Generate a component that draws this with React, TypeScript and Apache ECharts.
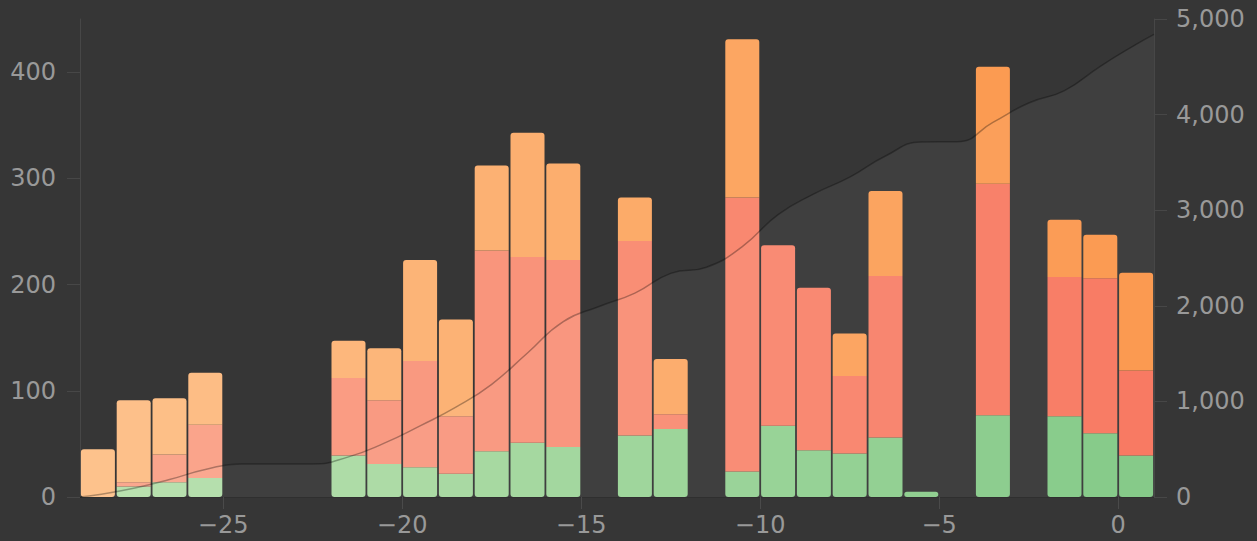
import React, { useEffect, useRef } from "react";
import * as echarts from "echarts";

// Bin centres (each bar covers [x-0.5, x+0.5])
const binCenters = [-28.5, -27.5, -26.5, -25.5, -21.5, -20.5, -19.5, -18.5, -17.5, -16.5, -15.5, -13.5, -12.5, -10.5, -9.5, -8.5, -7.5, -6.5, -5.5, -3.5, -1.5, -0.5, 0.5];
const greenValues = [0, 10, 14, 18, 39, 31, 28, 22, 43, 51, 47, 58, 64, 24, 67, 44, 41, 56, 5, 77, 76, 60, 39];
const redValues = [0, 4, 26, 50, 73, 60, 100, 54, 189, 175, 176, 183, 14, 258, 170, 153, 73, 152, 0, 218, 131, 146, 80];
const orangeValues = [45, 77, 53, 49, 35, 49, 95, 91, 80, 117, 91, 41, 52, 149, 0, 0, 40, 80, 0, 110, 54, 41, 92];

const xTickValues = [-25, -20, -15, -10, -5, 0];
const leftTickValues = [0, 100, 200, 300, 400];
const rightTickValues = [0, 1000, 2000, 3000, 4000, 5000];
const xMin = -29;
const xMax = 1;

// colour ramps (left-most bin -> right-most bin)
const greenRamp = [[184, 225, 173], [128, 200, 132]];
const redRamp = [[250, 169, 144], [248, 116, 92]];
const orangeRamp = [[253, 194, 140], [251, 149, 73]];

function rampColor(ramp: number[][], x: number) {
  const t = (x - binCenters[0]) / (binCenters[binCenters.length - 1] - binCenters[0]);
  const c = ramp[0].map((v, i) => Math.round(v + (ramp[1][i] - v) * t));
  return `rgb(${c[0]},${c[1]},${c[2]})`;
}

const fmtNum = (v: number) => {
  const s = Math.abs(v).toLocaleString("en-US");
  return v < 0 ? "\u2212" + s : s;
};

export default function App() {
  const ref = useRef<HTMLDivElement>(null);
  useEffect(() => {
    if (!ref.current) return;
    const chart = echarts.init(ref.current, null, { renderer: "svg" });
    const seriesVals = [greenValues, redValues, orangeValues];
    const ramps = [greenRamp, redRamp, orangeRamp];
    const R = 3;

    const barSeries = seriesVals.map((vals, si) => ({
      type: "bar",
      stack: "total",
      barWidth: 34,
      xAxisIndex: 0,
      yAxisIndex: 0,
      encode: { x: 1, y: 0 },
      data: vals.map((v, i) => {
        const col = seriesVals.map((s) => s[i]);
        let top = -1, bottom = -1;
        col.forEach((cv, k) => {
          if (cv > 0) {
            if (bottom < 0) bottom = k;
            top = k;
          }
        });
        const radius = [
          si === top ? R : 0,
          si === top ? R : 0,
          si === bottom ? R : 0,
          si === bottom ? R : 0,
        ];
        return {
          value: [v, binCenters[i]],
          itemStyle: { color: rampColor(ramps[si], binCenters[i]), borderRadius: radius },
        };
      }),
    }));

    // cumulative total, evaluated at each bin's midpoint (half of the bin counted)
    const cumulative: number[][] = [[xMin, 0]];
    let acc = 0;
    for (let x = xMin + 0.5; x < xMax; x += 1) {
      let binTotal = 0;
      binCenters.forEach((c, i) => {
        if (c === x) binTotal = greenValues[i] + redValues[i] + orangeValues[i];
      });
      cumulative.push([x, acc + binTotal / 2]);
      acc += binTotal;
    }
    cumulative.push([xMax, acc]);

    const axisLabelStyle = { color: "#999", fontSize: 24, fontFamily: "DejaVu Sans" };

    chart.setOption({
      animation: false,
      backgroundColor: "#363636",
      grid: { left: 80, right: 103, top: 19, bottom: 44 },
      xAxis: {
        type: "value",
        min: xMin,
        max: xMax,
        splitLine: { show: false },
        axisLine: { show: true, onZero: false, lineStyle: { color: "#2f2f2f", width: 1 } },
        axisTick: { show: true, length: 12, lineStyle: { color: "#4a4a4a" }, customValues: xTickValues },
        axisLabel: { ...axisLabelStyle, margin: 16, customValues: xTickValues, formatter: (v: number) => fmtNum(v) },
      },
      yAxis: [
        {
          type: "value",
          min: 0,
          max: 450,
          position: "left",
          splitLine: { show: false },
          axisLine: { show: true, onZero: false, lineStyle: { color: "#474747" } },
          axisTick: { show: true, length: 13, lineStyle: { color: "#474747" }, customValues: leftTickValues },
          axisLabel: { ...axisLabelStyle, margin: 24, customValues: leftTickValues, formatter: (v: number) => fmtNum(v) },
        },
        {
          type: "value",
          min: 0,
          max: 5000,
          position: "right",
          splitLine: { show: false },
          axisLine: { show: true, onZero: false, lineStyle: { color: "#474747" } },
          axisTick: { show: true, length: 13, lineStyle: { color: "#474747" }, customValues: rightTickValues },
          axisLabel: { ...axisLabelStyle, margin: 22, customValues: rightTickValues, formatter: (v: number) => fmtNum(v) },
        },
      ],
      series: [
        ...barSeries,
        {
          type: "line",
          xAxisIndex: 0,
          yAxisIndex: 1,
          smooth: 0.5,
          symbol: "none",
          data: cumulative,
          lineStyle: { color: "rgba(0,0,0,0.3)", width: 1.5 },
          areaStyle: { color: "rgba(255,255,255,0.07)" },
          z: 3,
        },
      ],
    });
    return () => chart.dispose();
  }, []);
  return <div ref={ref} style={{ position: "fixed", left: 0, top: 0, width: 1257, height: 541 }} />;
}
